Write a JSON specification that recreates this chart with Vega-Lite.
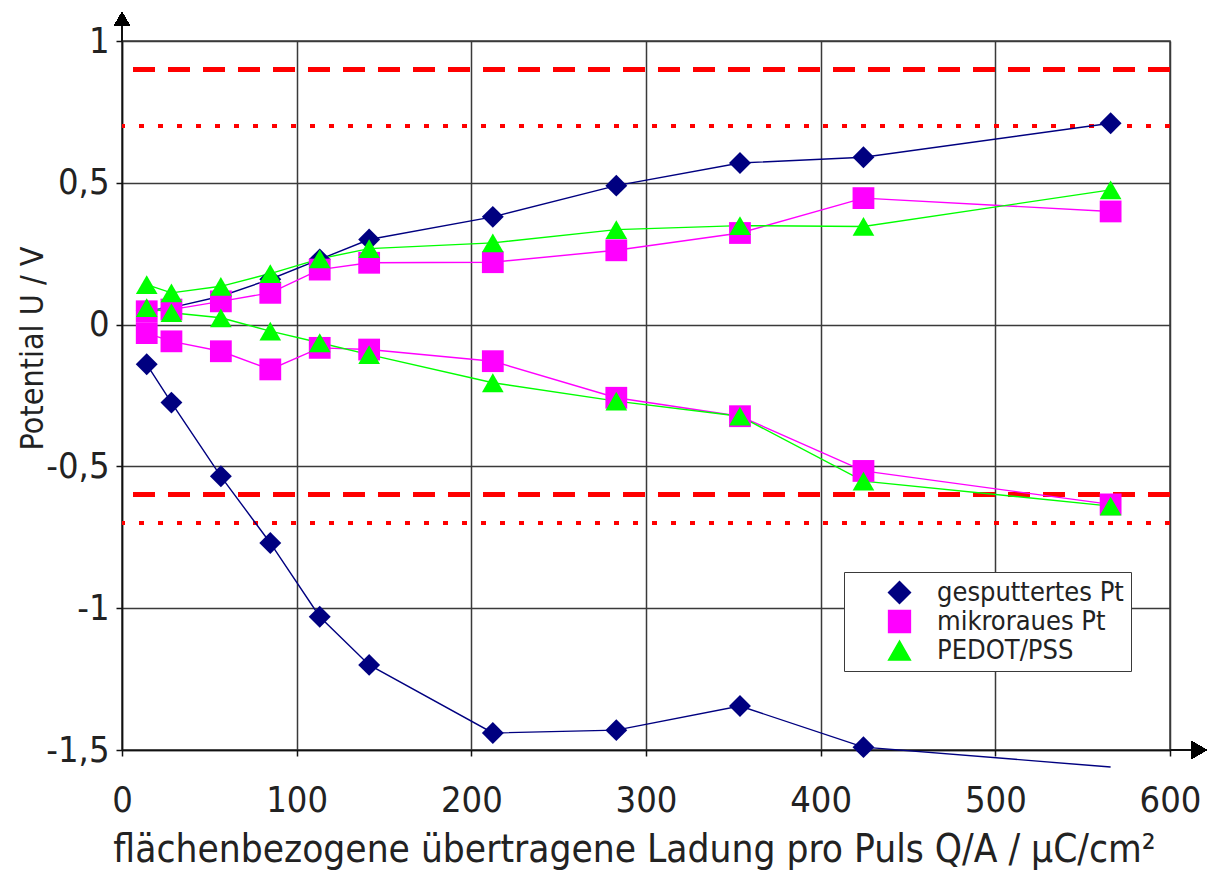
{
  "$schema": "https://vega.github.io/schema/vega-lite/v6.json",
  "width": 1048,
  "height": 709,
  "autosize": "none",
  "padding": {"left": 122, "top": 41, "right": 42, "bottom": 120},
  "background": "white",
  "config": {
    "font": "DejaVu Sans Condensed, Liberation Sans Narrow, sans-serif",
    "view": {"stroke": "#3a3a3a", "strokeWidth": 1.5},
    "axis": {
      "grid": true, "gridColor": "#3a3a3a", "gridWidth": 1.5, "gridOpacity": 1,
      "domainColor": "#111", "domainWidth": 1.5,
      "tickColor": "#111", "tickWidth": 1.5, "tickSize": 6,
      "labelFont": "DejaVu Sans Condensed, Liberation Sans Narrow, sans-serif",
      "titleFont": "DejaVu Sans Condensed, Liberation Sans Narrow, sans-serif",
      "labelFontSize": 36, "labelColor": "#222", "titleColor": "#222",
      "titleFontSize": 36, "titleFontWeight": "normal",
      "labelFlush": false, "labelOverlap": false, "labelBound": false
    },
    "legend": {
      "labelFontSize": 27, "labelColor": "#222", "labelLimit": 400,
      "labelFont": "DejaVu Sans Condensed, Liberation Sans Narrow, sans-serif",
      "padding": 7, "rowPadding": 0,
      "symbolSize": 784, "symbolOffset": 35, "labelOffset": 24,
      "fillColor": "white", "strokeColor": "#3a3a3a"
    }
  },
  "datasets": {
    "messwerte": [
      {"Q": 14.15, "U": 0.05, "Material": "gesputtertes Pt", "Zweig": "anodisch"},
      {"Q": 28.3, "U": 0.06, "Material": "gesputtertes Pt", "Zweig": "anodisch"},
      {"Q": 56.6, "U": 0.10, "Material": "gesputtertes Pt", "Zweig": "anodisch"},
      {"Q": 84.9, "U": 0.16, "Material": "gesputtertes Pt", "Zweig": "anodisch"},
      {"Q": 113.2, "U": 0.23, "Material": "gesputtertes Pt", "Zweig": "anodisch"},
      {"Q": 141.5, "U": 0.30, "Material": "gesputtertes Pt", "Zweig": "anodisch"},
      {"Q": 212.3, "U": 0.38, "Material": "gesputtertes Pt", "Zweig": "anodisch"},
      {"Q": 283.0, "U": 0.49, "Material": "gesputtertes Pt", "Zweig": "anodisch"},
      {"Q": 353.8, "U": 0.57, "Material": "gesputtertes Pt", "Zweig": "anodisch"},
      {"Q": 424.5, "U": 0.59, "Material": "gesputtertes Pt", "Zweig": "anodisch"},
      {"Q": 566.0, "U": 0.71, "Material": "gesputtertes Pt", "Zweig": "anodisch"},
      {"Q": 14.15, "U": -0.14, "Material": "gesputtertes Pt", "Zweig": "kathodisch"},
      {"Q": 28.3, "U": -0.275, "Material": "gesputtertes Pt", "Zweig": "kathodisch"},
      {"Q": 56.6, "U": -0.535, "Material": "gesputtertes Pt", "Zweig": "kathodisch"},
      {"Q": 84.9, "U": -0.77, "Material": "gesputtertes Pt", "Zweig": "kathodisch"},
      {"Q": 113.2, "U": -1.03, "Material": "gesputtertes Pt", "Zweig": "kathodisch"},
      {"Q": 141.5, "U": -1.20, "Material": "gesputtertes Pt", "Zweig": "kathodisch"},
      {"Q": 212.3, "U": -1.44, "Material": "gesputtertes Pt", "Zweig": "kathodisch"},
      {"Q": 283.0, "U": -1.43, "Material": "gesputtertes Pt", "Zweig": "kathodisch"},
      {"Q": 353.8, "U": -1.345, "Material": "gesputtertes Pt", "Zweig": "kathodisch"},
      {"Q": 424.5, "U": -1.49, "Material": "gesputtertes Pt", "Zweig": "kathodisch"},
      {"Q": 566.0, "U": -1.56, "Material": "gesputtertes Pt", "Zweig": "kathodisch"},
      {"Q": 14.15, "U": 0.047, "Material": "mikroraues Pt", "Zweig": "anodisch"},
      {"Q": 28.3, "U": 0.053, "Material": "mikroraues Pt", "Zweig": "anodisch"},
      {"Q": 56.6, "U": 0.082, "Material": "mikroraues Pt", "Zweig": "anodisch"},
      {"Q": 84.9, "U": 0.112, "Material": "mikroraues Pt", "Zweig": "anodisch"},
      {"Q": 113.2, "U": 0.194, "Material": "mikroraues Pt", "Zweig": "anodisch"},
      {"Q": 141.5, "U": 0.218, "Material": "mikroraues Pt", "Zweig": "anodisch"},
      {"Q": 212.3, "U": 0.22, "Material": "mikroraues Pt", "Zweig": "anodisch"},
      {"Q": 283.0, "U": 0.262, "Material": "mikroraues Pt", "Zweig": "anodisch"},
      {"Q": 353.8, "U": 0.323, "Material": "mikroraues Pt", "Zweig": "anodisch"},
      {"Q": 424.5, "U": 0.446, "Material": "mikroraues Pt", "Zweig": "anodisch"},
      {"Q": 566.0, "U": 0.399, "Material": "mikroraues Pt", "Zweig": "anodisch"},
      {"Q": 14.15, "U": -0.03, "Material": "mikroraues Pt", "Zweig": "kathodisch"},
      {"Q": 28.3, "U": -0.059, "Material": "mikroraues Pt", "Zweig": "kathodisch"},
      {"Q": 56.6, "U": -0.094, "Material": "mikroraues Pt", "Zweig": "kathodisch"},
      {"Q": 84.9, "U": -0.158, "Material": "mikroraues Pt", "Zweig": "kathodisch"},
      {"Q": 113.2, "U": -0.082, "Material": "mikroraues Pt", "Zweig": "kathodisch"},
      {"Q": 141.5, "U": -0.088, "Material": "mikroraues Pt", "Zweig": "kathodisch"},
      {"Q": 212.3, "U": -0.129, "Material": "mikroraues Pt", "Zweig": "kathodisch"},
      {"Q": 283.0, "U": -0.258, "Material": "mikroraues Pt", "Zweig": "kathodisch"},
      {"Q": 353.8, "U": -0.323, "Material": "mikroraues Pt", "Zweig": "kathodisch"},
      {"Q": 424.5, "U": -0.516, "Material": "mikroraues Pt", "Zweig": "kathodisch"},
      {"Q": 566.0, "U": -0.634, "Material": "mikroraues Pt", "Zweig": "kathodisch"},
      {"Q": 14.15, "U": 0.141, "Material": "PEDOT/PSS", "Zweig": "anodisch"},
      {"Q": 28.3, "U": 0.112, "Material": "PEDOT/PSS", "Zweig": "anodisch"},
      {"Q": 56.6, "U": 0.135, "Material": "PEDOT/PSS", "Zweig": "anodisch"},
      {"Q": 84.9, "U": 0.18, "Material": "PEDOT/PSS", "Zweig": "anodisch"},
      {"Q": 113.2, "U": 0.232, "Material": "PEDOT/PSS", "Zweig": "anodisch"},
      {"Q": 141.5, "U": 0.268, "Material": "PEDOT/PSS", "Zweig": "anodisch"},
      {"Q": 212.3, "U": 0.288, "Material": "PEDOT/PSS", "Zweig": "anodisch"},
      {"Q": 283.0, "U": 0.335, "Material": "PEDOT/PSS", "Zweig": "anodisch"},
      {"Q": 353.8, "U": 0.349, "Material": "PEDOT/PSS", "Zweig": "anodisch"},
      {"Q": 424.5, "U": 0.346, "Material": "PEDOT/PSS", "Zweig": "anodisch"},
      {"Q": 566.0, "U": 0.475, "Material": "PEDOT/PSS", "Zweig": "anodisch"},
      {"Q": 14.15, "U": 0.06, "Material": "PEDOT/PSS", "Zweig": "kathodisch"},
      {"Q": 28.3, "U": 0.042, "Material": "PEDOT/PSS", "Zweig": "kathodisch"},
      {"Q": 56.6, "U": 0.024, "Material": "PEDOT/PSS", "Zweig": "kathodisch"},
      {"Q": 84.9, "U": -0.023, "Material": "PEDOT/PSS", "Zweig": "kathodisch"},
      {"Q": 113.2, "U": -0.064, "Material": "PEDOT/PSS", "Zweig": "kathodisch"},
      {"Q": 141.5, "U": -0.106, "Material": "PEDOT/PSS", "Zweig": "kathodisch"},
      {"Q": 212.3, "U": -0.205, "Material": "PEDOT/PSS", "Zweig": "kathodisch"},
      {"Q": 283.0, "U": -0.27, "Material": "PEDOT/PSS", "Zweig": "kathodisch"},
      {"Q": 353.8, "U": -0.323, "Material": "PEDOT/PSS", "Zweig": "kathodisch"},
      {"Q": 424.5, "U": -0.552, "Material": "PEDOT/PSS", "Zweig": "kathodisch"},
      {"Q": 566.0, "U": -0.64, "Material": "PEDOT/PSS", "Zweig": "kathodisch"}
    ]
  },
  "data": {"name": "messwerte"},
  "layer": [
    {"mark": {"type": "rule", "color": "#FF0000", "strokeWidth": 4, "strokeDash": [22, 13]}, "encoding": {"y": {"datum": 0.9}}},
    {"mark": {"type": "rule", "color": "#FF0000", "strokeWidth": 3, "strokeDash": [5, 14]}, "encoding": {"y": {"datum": 0.7}}},
    {"mark": {"type": "rule", "color": "#FF0000", "strokeWidth": 4, "strokeDash": [22, 13]}, "encoding": {"y": {"datum": -0.6}}},
    {"mark": {"type": "rule", "color": "#FF0000", "strokeWidth": 2.5, "strokeDash": [5, 14]}, "encoding": {"y": {"datum": -0.7}}},
    {
      "mark": {"type": "line", "clip": false, "strokeWidth": 1.4},
      "encoding": {
        "x": {
          "field": "Q", "type": "quantitative",
          "scale": {"domain": [0, 600], "nice": false, "zero": false},
          "axis": {
            "values": [0, 100, 200, 300, 400, 500, 600],
            "format": "d",
            "labelPadding": 27,
            "title": "flächenbezogene übertragene Ladung pro Puls Q/A / µC/cm²",
            "titleFontSize": 38.5,
            "titleX": 512, "titleY": 111, "titleAlign": "center", "titleBaseline": "alphabetic"
          }
        },
        "y": {
          "field": "U", "type": "quantitative",
          "scale": {"domain": [-1.5, 1], "nice": false, "zero": false},
          "axis": {
            "values": [-1.5, -1, -0.5, 0, 0.5, 1],
            "labelExpr": "replace(toString(datum.value), '.', ',')",
            "labelPadding": 7,
            "title": "Potential U / V",
            "titleFontSize": 32,
            "titleAngle": 270, "titleX": -80, "titleY": 307, "titleAlign": "center", "titleBaseline": "alphabetic"
          }
        },
        "color": {
          "field": "Material", "type": "nominal",
          "scale": {"domain": ["gesputtertes Pt", "mikroraues Pt", "PEDOT/PSS"], "range": ["#000080", "#FF00FF", "#00FF00"]},
          "legend": {"orient": "none", "legendX": 722, "legendY": 531, "title": null}
        },
        "detail": {"field": "Zweig"}
      }
    },
    {"mark": {"type": "rule", "color": "#111", "strokeWidth": 1.5}, "encoding": {"x": {"datum": 0}, "y": {"datum": 1}, "y2": {"datum": 1.05}}},
    {"mark": {"type": "rule", "color": "#111", "strokeWidth": 1.5}, "encoding": {"y": {"datum": -1.5}, "x": {"datum": 600}, "x2": {"datum": 613}}},
    {"mark": {"type": "point", "shape": "triangle-up", "filled": true, "color": "#000", "opacity": 1, "size": 256}, "encoding": {"x": {"datum": 0}, "y": {"datum": 1.077}}},
    {"mark": {"type": "point", "shape": "triangle-right", "filled": true, "color": "#000", "opacity": 1, "size": 324}, "encoding": {"x": {"datum": 616.5}, "y": {"datum": -1.5}}},
    {
      "transform": [{"filter": "datum.U >= -1.5"}],
      "mark": {"type": "point", "filled": true, "opacity": 1},
      "encoding": {
        "x": {"field": "Q", "type": "quantitative"},
        "y": {"field": "U", "type": "quantitative"},
        "color": {
          "field": "Material", "type": "nominal",
          "legend": {"orient": "none", "legendX": 722, "legendY": 531, "title": null}
        },
        "shape": {
          "field": "Material", "type": "nominal",
          "scale": {"domain": ["gesputtertes Pt", "mikroraues Pt", "PEDOT/PSS"], "range": ["diamond", "square", "triangle-up"]},
          "legend": null
        },
        "size": {
          "field": "Material", "type": "nominal",
          "scale": {"domain": ["gesputtertes Pt", "mikroraues Pt", "PEDOT/PSS"], "range": [480, 470, 520]},
          "legend": null
        }
      }
    }
  ]
}
